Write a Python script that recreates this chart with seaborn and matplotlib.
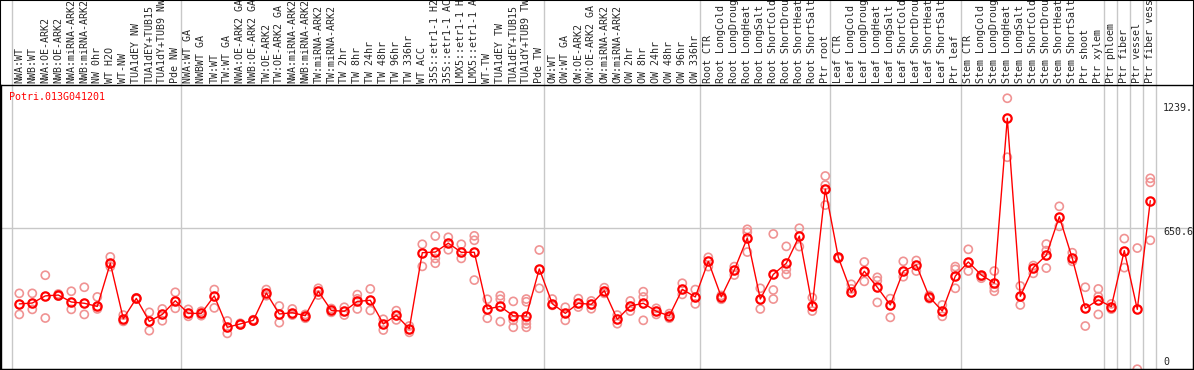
import numpy as np
import pandas as pd
import matplotlib
matplotlib.use("Agg")
import matplotlib.pyplot as plt
import matplotlib.transforms as mtransforms
import seaborn as sns

gene = "Potri.013G041201"

samples = [
    "NWA:WT", "NWB:WT", "NWA:OE-ARK2", "NWB:OE-ARK2", "NWA:miRNA-ARK2", "NWB:miRNA-ARK2",
    "NW 0hr", "WT H2O", "WT-NW", "TUA1dEY NW", "TUA1dEY+TUB15", "TUA1dY+TUB9 NW", "Pde NW",
    "NWA:WT GA", "NWBWT GA", "TW:WT", "TW:WT GA", "NWA:OE-ARK2 GA", "NWB:OE-ARK2 GA",
    "TW:OE-ARK2", "TW:OE-ARK2 GA", "NWA:miRNA-ARK2", "NWB:miRNA-ARK2", "TW:miRNA-ARK2",
    "TW:miRNA-ARK2", "TW 2hr", "TW 8hr", "TW 24hr", "TW 48hr", "TW 96hr", "TW 336hr",
    "WT ACC", "35S::etr1-1 H2", "35S::etr1-1 AC", "LMX5::etr1-1 H", "LMX5::etr1-1 A",
    "WT-TW", "TUA1dEY TW", "TUA1dEY+TUB15", "TUA1dY+TUB9 TW", "Pde TW",
    "OW:WT", "OW:WT GA", "OW:OE-ARK2", "OW:OE-ARK2 GA", "OW:miRNA-ARK2", "OW:miRNA-ARK2",
    "OW 2hr", "OW 8hr", "OW 24hr", "OW 48hr", "OW 96hr", "OW 336hr",
    "Root CTR", "Root LongCold", "Root LongDroug", "Root LongHeat", "Root LongSalt",
    "Root ShortCold", "Root ShortDrou", "Root ShortHeat", "Root ShortSalt", "Ptr root",
    "Leaf CTR", "Leaf LongCold", "Leaf LongDroug", "Leaf LongHeat", "Leaf LongSalt",
    "Leaf ShortCold", "Leaf ShortDrou", "Leaf ShortHeat", "Leaf ShortSalt", "Ptr leaf",
    "Stem CTR", "Stem LongCold", "Stem LongDroug", "Stem LongHeat", "Stem LongSalt",
    "Stem ShortCold", "Stem ShortDrou", "Stem ShortHeat", "Stem ShortSalt", "Ptr shoot",
    "Ptr xylem", "Ptr phloem", "Ptr fiber", "Ptr vessel", "Ptr fiber vess",
]

means = [
    290, 294, 328, 332, 299, 293, 278, 483, 220, 316, 207, 240, 305,
    245, 245, 328, 179, 195, 212, 342, 242, 248, 234, 350, 259, 255, 302, 307, 195, 236, 172,
    533, 536, 578, 535, 535, 266, 278, 233, 233, 456,
    291, 245, 293, 288, 353, 217, 280, 293, 255, 233, 359, 323,
    492, 323, 451, 603, 313, 430, 483, 612, 280, 835,
    511, 345, 445, 369, 285, 445, 475, 323, 256, 422,
    489, 427, 389, 1171, 326, 462, 521, 704, 506, 269, 309,
    277, 543, 264, 780,
]

replicates = [
    [340, 240], [340, 264], [426, 223], [337, 327], [350, 264], [369, 240], [323, 266],
    [513, 467], [237, 207], [319, 313], [250, 163], [266, 210], [345, 269],
    [264, 231], [255, 234], [358, 271], [209, 150], [198, 191], [215, 208], [358, 329],
    [280, 201], [266, 237], [240, 222], [364, 332], [268, 250], [274, 237], [334, 314, 266],
    [361, 259], [217, 166], [258, 214], [185, 155],
    [573, 468], [612, 506, 483], [606, 547], [573, 506], [613, 592, 403],
    [312, 222], [329, 312, 206], [302, 212, 179], [313, 300, 210, 195, 179], [546, 364],
    [313, 283], [274, 212], [315, 275], [304, 267], [367, 340], [237, 196], [304, 256],
    [348, 323, 212], [269, 240], [244, 222], [388, 335], [358, 290],
    [511, 467], [330, 312], [467, 427], [644, 630, 536], [364, 266], [622, 356, 313],
    [563, 454, 430], [649, 562], [320, 256], [897, 854, 759],
    [511, 505], [383, 361], [489, 397], [416, 400, 297], [315, 226], [492, 419],
    [496, 446], [330, 315], [285, 231], [467, 454, 364],
    [549, 446], [412, 420], [446, 367, 350], [1266, 986], [375, 285], [472, 435],
    [574, 543, 460], [753, 658], [533, 492], [369, 185], [361, 325, 240],
    [290, 265], [600, 462], [555, -20], [886, 867, 592],
]

group_breaks = [-0.6, 12.4, 40.4, 52.4, 62.4, 72.4, 83.4, 84.4, 85.4, 86.4, 87.4]
y_ticks = [0, 650.6, 1239]
y_tick_labels = ["0", "650.6", "1239."]

sns.set_style("white")
plt.rcParams["font.family"] = ["DejaVu Sans Mono"]

fig = plt.figure(figsize=(11.94, 3.70), dpi=100)
ax = fig.add_axes([1 / 1194, 1 / 370, 1192 / 1194, 284 / 370])

pos = np.arange(len(samples))
rep_df = pd.DataFrame({
    "pos": np.repeat(pos, [len(r) for r in replicates]),
    "value": np.concatenate(replicates),
})
mean_df = pd.DataFrame({"pos": pos, "value": means})

# grid lines first
ax.axhline(650.6, color="#c8c8c8", lw=1, zorder=0)
for b in group_breaks:
    ax.axvline(b, ymin=0, ymax=1 + 85 / 284, color="#c8c8c8", lw=1,
               clip_on=False, zorder=0)

sns.scatterplot(data=rep_df, x="pos", y="value", ax=ax, s=34,
                facecolors="none", edgecolor="#f09393", linewidth=1.2, zorder=2)
sns.lineplot(data=mean_df, x="pos", y="value", ax=ax, color="red", lw=1,
             marker="o", ms=6, mfc="none", mec="red", mew=1.6, zorder=3)

ax.set_xlim(-(19.3 - 1) / 13, (1193 - 19.3) / 13)
ax.set_ylim(-19.0, 1328.9)
ax.set_xlabel("")
ax.set_ylabel("")

ax.xaxis.tick_top()
ax.set_xticks(pos)
ax.set_xticklabels(samples, rotation=90, fontsize=7.2)
ax.tick_params(axis="x", length=0, pad=1.5)

ax.yaxis.tick_right()
ax.set_yticks(y_ticks)
ax.set_yticklabels(y_tick_labels, fontsize=7.2)
ax.tick_params(axis="y", length=0, pad=-21.6)
for lab, dy in zip(ax.get_yticklabels(), [3.7, -3.4, -3.4]):
    lab.set_transform(lab.get_transform() +
                      mtransforms.ScaledTranslation(0, dy / 100, fig.dpi_scale_trans))

for s in ax.spines.values():
    s.set_color("black")
    s.set_linewidth(1)

ax.text(8 / 1192, 1 - 7 / 284, gene, transform=ax.transAxes, color="red",
        va="top", ha="left", fontsize=7.2)

fig.add_artist(plt.Rectangle((0, 0), 1, 1, transform=fig.transFigure,
                             fill=False, ec="black", lw=1.5))

fig.savefig("out.png", dpi=100)
